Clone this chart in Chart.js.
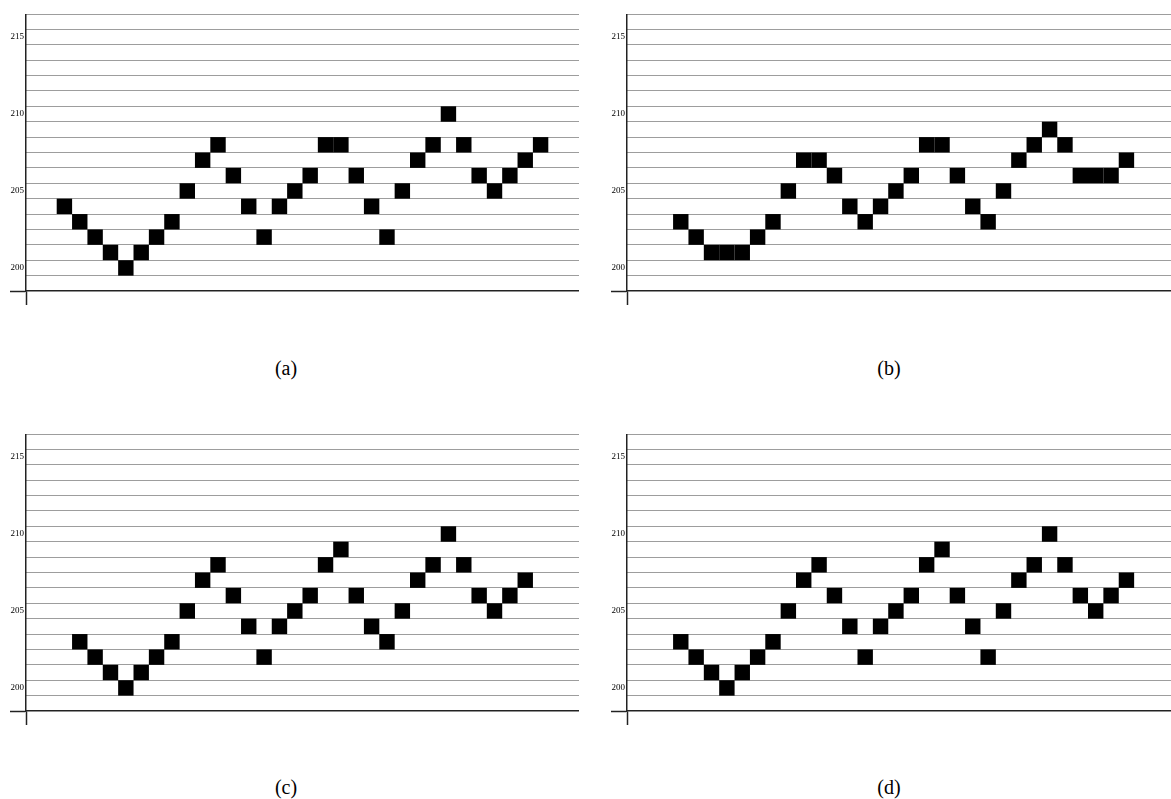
<!DOCTYPE html>
<html>
<head>
<meta charset="utf-8">
<script src="https://cdn.jsdelivr.net/npm/chart.js@4"></script>
<style>
  body { margin: 0; background: #fff; width: 1171px; height: 799px; position: relative; overflow: hidden; }
  .panel { position: absolute; }
  .cap { position: absolute; font-family: "Liberation Serif", serif; font-size: 20px; transform: translate(-50%, -50%); color: #000; }
</style>
</head>
<body>
<div class="panel" style="left:10px;top:14px;width:569px;height:291px"><canvas id="chartA"></canvas></div>
<div class="panel" style="left:611px;top:14px;width:560px;height:291px"><canvas id="chartB"></canvas></div>
<div class="panel" style="left:10px;top:434px;width:569px;height:291px"><canvas id="chartC"></canvas></div>
<div class="panel" style="left:611px;top:434px;width:560px;height:291px"><canvas id="chartD"></canvas></div>
<div class="cap" style="left:286px;top:368px">(a)</div>
<div class="cap" style="left:889px;top:368px">(b)</div>
<div class="cap" style="left:286px;top:787px">(c)</div>
<div class="cap" style="left:889px;top:787px">(d)</div>
<script>
// pitch values, one per beat
const seriesA = [204, 203, 202, 201, 200, 201, 202, 203, 205, 207, 208, 206, 204, 202, 204, 205,
                 206, 208, 208, 206, 204, 202, 205, 207, 208, 210, 208, 206, 205, 206, 207, 208];
const seriesB = [203, 202, 201, 201, 201, 202, 203, 205, 207, 207, 206, 204, 203, 204, 205,
                 206, 208, 208, 206, 204, 203, 205, 207, 208, 209, 208, 206, 206, 206, 207];
const seriesC = [203, 202, 201, 200, 201, 202, 203, 205, 207, 208, 206, 204, 202, 204, 205,
                 206, 208, 209, 206, 204, 203, 205, 207, 208, 210, 208, 206, 205, 206, 207];
const seriesD = [203, 202, 201, 200, 201, 202, 203, 205, 207, 208, 206, 204, 202, 204, 205,
                 206, 208, 209, 206, 204, 202, 205, 207, 208, 210, 208, 206, 205, 206, 207];

// beat where each series starts
const firstBeat = [2, 3, 3, 3];

// dotted lines sit between pitch rows
const staffLines = [199.5, 200.5, 201.5, 202.5, 203.5, 204.5, 205.5, 206.5, 207.5,
                    208.5, 209.5, 210.5, 211.5, 212.5, 213.5, 214.5, 215.5, 216.5];
const yTickLabels = [200, 205, 210, 215];
const yMin = 198.5, yMax = 216.5;

function makeChart(id, values, start, xMax) {
  const points = values.map((v, i) => ({ x: start + i + 0.5, y: v }));

  return new Chart(document.getElementById(id), {
    type: 'scatter',
    data: {
      datasets: [{
        data: points,
        pointStyle: 'rect',
        pointRadius: 10.9,
        pointHoverRadius: 10.9,
        pointBackgroundColor: '#000',
        pointBorderWidth: 0,
        showLine: false
      }]
    },
    options: {
      responsive: true,
      maintainAspectRatio: false,
      animation: false,
      events: [],
      // no room for point overflow, the plot should fill the box
      layout: { padding: 0, autoPadding: false },
      plugins: { legend: { display: false }, tooltip: { enabled: false } },
      scales: {
        x: {
          type: 'linear',
          min: 0,
          max: xMax,
          afterBuildTicks: s => { s.ticks = [{ value: 0 }]; },
          afterFit: s => { s.height = 14; },
          ticks: { display: false },
          grid: { drawOnChartArea: false, drawTicks: true, tickLength: 14, tickColor: '#222', tickWidth: 1.5 },
          border: { display: true, color: '#222', width: 1.5 }
        },
        y: {
          min: yMin,
          max: yMax,
          afterBuildTicks: s => {
            s.ticks = [yMin, ...staffLines, ...yTickLabels].sort((a, b) => a - b).map(v => ({ value: v }));
          },
          afterFit: s => { s.width = 16; },
          ticks: {
            autoSkip: false,
            padding: -14,
            color: '#000',
            font: { family: 'Liberation Serif', size: 9 },
            callback: v => yTickLabels.includes(v) ? String(v) : ''
          },
          grid: {
            lineWidth: 1,
            color: c => (c.tick && staffLines.includes(c.tick.value)) ? '#3a3a3a' : 'rgba(0,0,0,0)',
            tickLength: 16,
            tickWidth: 1.5,
            tickColor: c => (c.tick && c.tick.value === yMin) ? '#222' : 'rgba(0,0,0,0)'
          },
          border: { display: true, color: '#222', width: 1.5, dash: [1, 1] }
        }
      }
    }
  });
}

makeChart('chartA', seriesA, firstBeat[0], 36);
makeChart('chartB', seriesB, firstBeat[1], 35.4);
makeChart('chartC', seriesC, firstBeat[2], 36);
makeChart('chartD', seriesD, firstBeat[3], 35.4);
</script>
</body>
</html>
